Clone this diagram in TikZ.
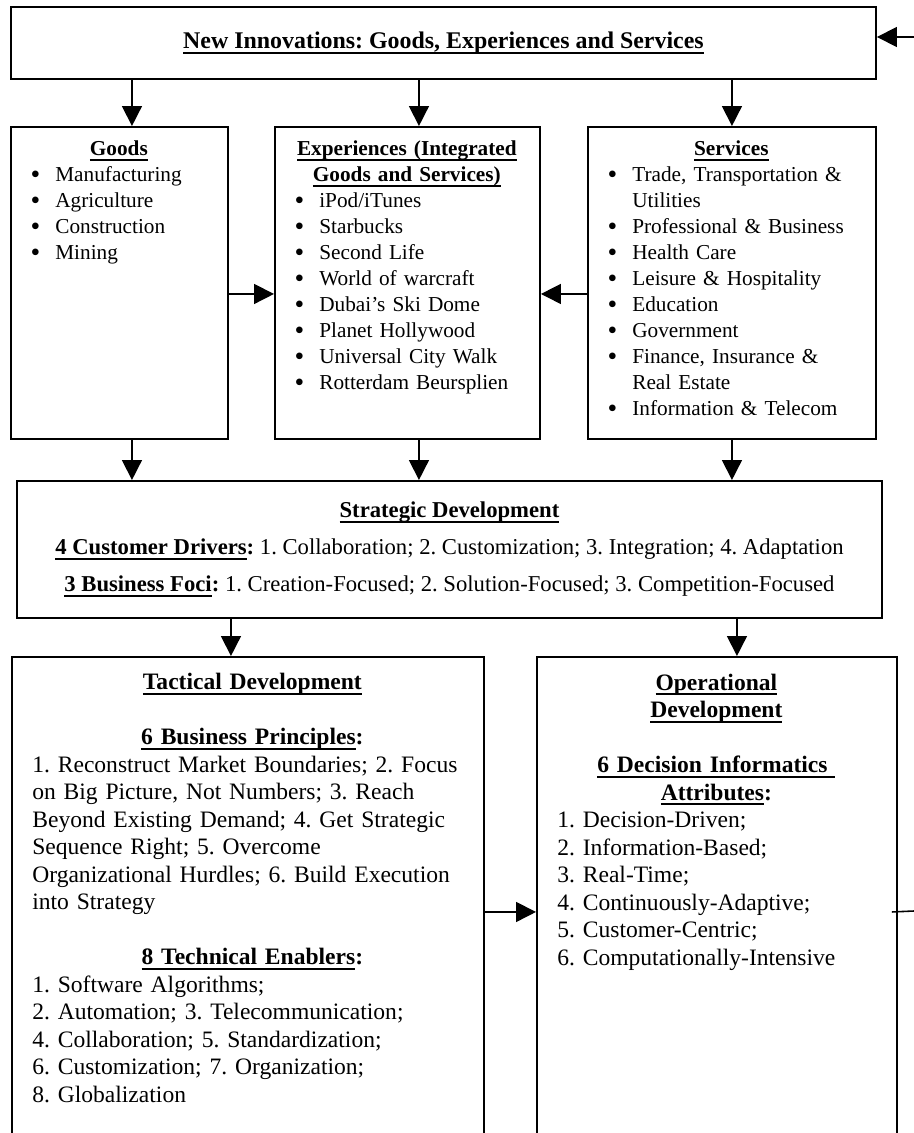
\documentclass[tikz,border=0pt]{standalone}
\usepackage{fontspec}
\setmainfont{Liberation Serif}
\usepackage{enumitem}
\usepackage{tikz}
\usetikzlibrary{arrows.meta,positioning}
\setlength{\parindent}{0pt}
\frenchspacing
\newcommand{\uln}[1]{\setbox0\hbox{#1}\leavevmode\rlap{\rule[-2.9pt]{\wd0}{1.1pt}}\box0}
\newcommand{\hd}[1]{\textbf{\uln{#1}}}
\setlist[itemize]{nosep,leftmargin=19.9pt,labelsep=8.5pt,
  label={\raisebox{-0.9pt}{\scalebox{1.3}{\textbullet}}}}

\begin{document}
\begin{tikzpicture}[
  font=\fontsize{12.1}{14.8}\selectfont,
  frame/.style={
    rectangle, draw, line width=1.1pt,
    anchor=north west, inner sep=0pt
  },
  txt/.style={anchor=north west, inner sep=0pt, align=left},
  longtxt/.style={txt, font=\fontsize{13.4}{15.65}\selectfont},
  arr/.style={-{Triangle[length=0.4cm,width=0.4cm]}, line width=0.9pt},
  wire/.style={line width=0.9pt}
]
\useasboundingbox (0,0) rectangle (18.28,-22.66);
\clip (0,0) rectangle (18.28,-22.66);

% top row
\node[frame, minimum width=17.30cm, minimum height=1.44cm, font=\fontsize{13.6}{16}\selectfont] (innov) at (0.20,-0.12)
  {\hd{New Innovations: Goods, Experiences and Services}};

% three sectors
\node[frame, minimum width=4.34cm, minimum height=6.24cm] (goods) at (0.20,-2.52) {};
\node[frame, minimum width=5.30cm, minimum height=6.24cm] (exper) at (5.48,-2.52) {};
\node[frame, minimum width=5.76cm, minimum height=6.24cm] (serv) at (11.74,-2.52) {};

\node[txt, text width=3.94cm, below right=0.29cm and 0.2cm of goods.north west] (goodstxt)
  {{\centering\hd{Goods}\par}
   \begin{itemize}
   \item Manufacturing
   \item Agriculture
   \item Construction
   \item Mining
   \end{itemize}};

\node[txt, text width=4.9cm, below right=0.29cm and 0.2cm of exper.north west] (expertxt)
  {{\centering\hd{Experiences (Integrated}\\\hd{Goods and Services)}\par}
   \begin{itemize}
   \item iPod/iTunes
   \item Starbucks
   \item Second Life
   \item World of warcraft
   \item Dubai’s Ski Dome
   \item Planet Hollywood
   \item Universal City Walk
   \item Rotterdam Beursplien
   \end{itemize}};

\node[txt, text width=5.36cm, below right=0.29cm and 0.2cm of serv.north west] (servtxt)
  {{\centering\hd{Services}\par}
   \begin{itemize}
   \item Trade, Transportation \&\\ Utilities
   \item Professional \& Business
   \item Health Care
   \item Leisure \& Hospitality
   \item Education
   \item Government
   \item Finance, Insurance \&\\ Real Estate
   \item Information \& Telecom
   \end{itemize}};

% strategy
\node[frame, minimum width=17.30cm, minimum height=2.74cm, align=center,
      font=\fontsize{12.9}{15.2}\selectfont] (strat) at (0.32,-9.60)
  {\hd{Strategic Development}\\[5.9pt]
   \hd{4 Customer Drivers}\textbf{:} 1. Collaboration; 2. Customization; 3. Integration; 4. Adaptation\\[5.9pt]
   \hd{3 Business Foci}\textbf{:} 1. Creation-Focused; 2. Solution-Focused; 3. Competition-Focused};

% tactics and operations
\node[frame, minimum width=9.44cm, minimum height=10.2cm] (tact) at (0.22,-13.12) {};
\node[frame, minimum width=7.20cm, minimum height=10.2cm] (oper) at (10.72,-13.12) {};

\node[longtxt, text width=8.8cm, below right=0.34cm and 0.42cm of tact.north west] (tacttxt)
  {{\centering\hd{Tactical Development}\par}
   \vspace{\baselineskip}
   {\centering\hd{6 Business Principles}\textbf{:}\par}
   1. Reconstruct Market Boundaries; 2. Focus\\
   on Big Picture, Not Numbers; 3. Reach\\
   Beyond Existing Demand; 4. Get Strategic\\
   Sequence Right; 5. Overcome\\
   Organizational Hurdles; 6. Build Execution\\
   into Strategy\par
   \vspace{\baselineskip}
   {\centering\hd{8 Technical Enablers}\textbf{:}\par}
   1. Software Algorithms;\\
   2. Automation; 3. Telecommunication;\\
   4. Collaboration; 5. Standardization;\\
   6. Customization; 7. Organization;\\
   8. Globalization};

\node[longtxt, text width=6.36cm, below right=0.35cm and 0.42cm of oper.north west] (opertxt)
  {{\centering\hd{Operational}\\\hd{Development}\par}
   \vspace{\baselineskip}
   {\centering\hd{6 Decision Informatics }\\\hd{Attributes}\textbf{:}\par}
   1. Decision-Driven;\\
   2. Information-Based;\\
   3. Real-Time;\\
   4. Continuously-Adaptive;\\
   5. Customer-Centric;\\
   6. Computationally-Intensive};

% connectors
\draw[arr] ([xshift=0.25cm]goods.north |- innov.south) -- ([xshift=0.25cm]goods.north);
\draw[arr] ([xshift=0.23cm]exper.north |- innov.south) -- ([xshift=0.23cm]exper.north);
\draw[arr] (serv.north |- innov.south) -- (serv.north);

\draw[arr] ([yshift=-0.22cm]goods.east) -- ([yshift=-0.22cm]goods.east -| exper.west);
\draw[arr] ([yshift=-0.22cm]serv.west) -- ([yshift=-0.22cm]serv.west -| exper.east);

\draw[arr] ([xshift=0.25cm]goods.south) -- ([xshift=0.25cm]goods.south |- strat.north);
\draw[arr] ([xshift=0.23cm]exper.south) -- ([xshift=0.23cm]exper.south |- strat.north);
\draw[arr] (serv.south) -- (serv.south |- strat.north);

\draw[arr] ([xshift=-0.34cm]tact.north |- strat.south) -- ([xshift=-0.34cm]tact.north);
\draw[arr] ([xshift=0.40cm]oper.north |- strat.south) -- ([xshift=0.40cm]oper.north);
\draw[arr] (tact.east) -- (oper.west);

% feedback ends
\coordinate (fbin) at (18.28,-0.74);
\coordinate (fbout) at (18.28,-18.22);
\draw[arr] (fbin) -- (fbin -| innov.east);
\draw[wire] ([xshift=-0.12cm]oper.east) -- (fbout);
\end{tikzpicture}
\end{document}
